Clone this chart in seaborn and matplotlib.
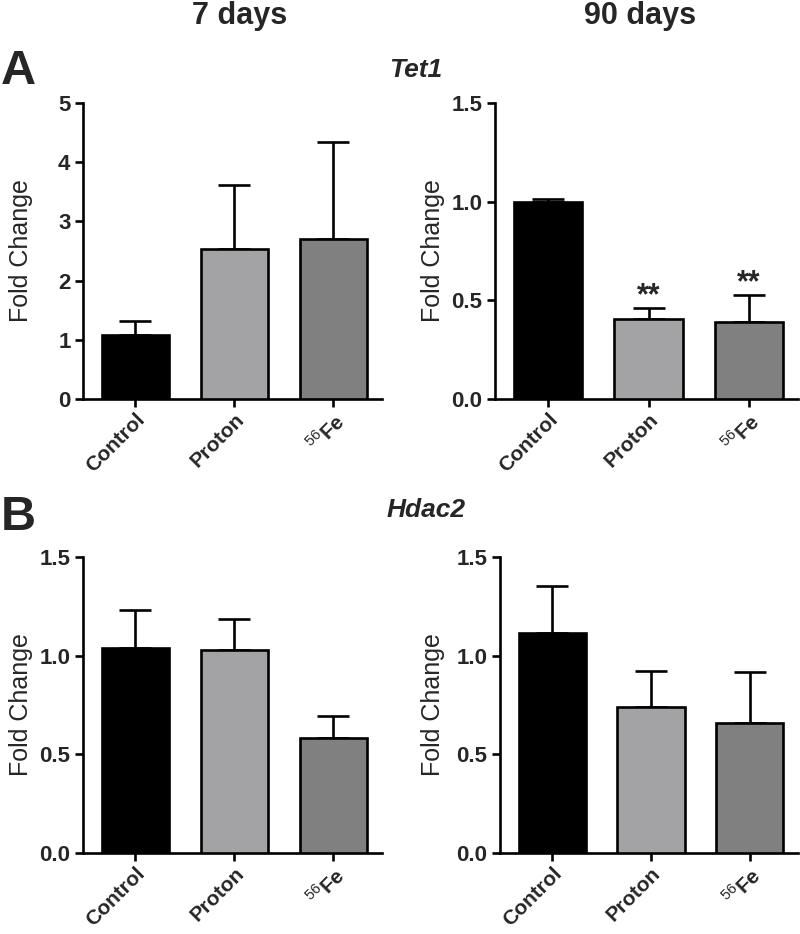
import matplotlib
matplotlib.use("Agg")
import matplotlib.pyplot as plt
import seaborn as sns
import numpy as np

sns.set_style("ticks")
plt.rcParams['font.family'] = ['Liberation Sans', 'DejaVu Sans']
plt.rcParams['mathtext.fontset'] = 'custom'
plt.rcParams['mathtext.rm'] = 'Liberation Sans'
plt.rcParams['mathtext.bf'] = 'Liberation Sans:bold'

categories = ["Control", "Proton", r"$^{56}$Fe"]
bar_colors = ["#000000", "#a2a2a6", "#808080"]

tet1_7d = [1.08, 2.53, 2.70]
tet1_7d_err = [0.23, 1.08, 1.64]
tet1_90d = [1.00, 0.405, 0.39]
tet1_90d_err = [0.015, 0.055, 0.135]
hdac2_7d = [1.04, 1.03, 0.585]
hdac2_7d_err = [0.19, 0.155, 0.11]
hdac2_90d = [1.117, 0.741, 0.657]
hdac2_90d_err = [0.236, 0.181, 0.261]

yticks_tet1_7d = [0, 1, 2, 3, 4, 5]
yticks_other = [0.0, 0.5, 1.0, 1.5]

fig = plt.figure(figsize=(8, 9.34), dpi=100)

W, H = 800, 934
def add_ax(x0, x1, ytop, ybot):
    return fig.add_axes([x0 / W, 1 - ybot / H, (x1 - x0) / W, (ybot - ytop) / H])

axes = [
    add_ax(83, 382, 103, 399),
    add_ax(495, 798, 103, 399),
    add_ax(83, 382, 557, 853),
    add_ax(500, 798, 557, 853),
]
panels = [
    (tet1_7d, tet1_7d_err, yticks_tet1_7d, ["0", "1", "2", "3", "4", "5"], None),
    (tet1_90d, tet1_90d_err, yticks_other, ["0.0", "0.5", "1.0", "1.5"], [None, "**", "**"]),
    (hdac2_7d, hdac2_7d_err, yticks_other, ["0.0", "0.5", "1.0", "1.5"], None),
    (hdac2_90d, hdac2_90d_err, yticks_other, ["0.0", "0.5", "1.0", "1.5"], None),
]

lw = 1.9
for ax, (vals, errs, yt, ytl, stars) in zip(axes, panels):
    sns.barplot(x=categories, y=vals, hue=categories, palette=bar_colors,
                order=categories, hue_order=categories, legend=False,
                width=0.68, edgecolor="black", linewidth=lw, errorbar=None,
                ax=ax, zorder=3)
    xs = np.arange(len(vals))
    ax.errorbar(xs, vals, yerr=[np.zeros(len(vals)), errs], fmt="none",
                ecolor="black", elinewidth=lw, capsize=11.5, capthick=lw, zorder=2)
    if stars:
        for x, v, e, s in zip(xs, vals, errs, stars):
            if s:
                ax.annotate(s, (x, v + e), xytext=(0, -2), textcoords="offset points",
                            ha="center", va="bottom", fontsize=22, fontweight="bold")
    ax.set_xlim(-0.53, 2.49)
    ax.set_ylim(yt[0], yt[-1])
    ax.set_yticks(yt)
    ax.set_yticklabels(ytl, fontsize=16, fontweight="bold")
    ax.set_xticks(xs)
    ax.set_xticklabels(categories, fontsize=15, fontweight="bold", rotation=45,
                       ha="right", rotation_mode="anchor")
    ax.set_ylabel("Fold Change", fontsize=18)
    ax.set_xlabel("")
    sns.despine(ax=ax)
    for sp in ["left", "bottom"]:
        ax.spines[sp].set_linewidth(lw)
        ax.spines[sp].set_color("black")
    ax.tick_params(axis="both", width=lw, length=6, color="black", pad=3)
    ax.tick_params(axis="x", pad=2)
    ax.set_facecolor("white")

axes[0].yaxis.set_label_coords(-0.167, 0.5)
axes[1].yaxis.set_label_coords(-0.165, 0.5)
axes[2].yaxis.set_label_coords(-0.167, 0.5)
axes[3].yaxis.set_label_coords(-0.185, 0.5)

fig.text(240 / W, 1 - 16 / H, "7 days", fontsize=22, fontweight="bold", ha="center", va="center")
fig.text(640 / W, 1 - 16 / H, "90 days", fontsize=22, fontweight="bold", ha="center", va="center")
fig.text(1 / W, 1 - 72 / H, "A", fontsize=35, fontweight="bold", ha="left", va="center")
fig.text(1 / W, 1 - 517 / H, "B", fontsize=35, fontweight="bold", ha="left", va="center")
fig.text(389 / W, 1 - 70 / H, "Tet1", fontsize=19, fontweight="bold", style="italic", ha="left", va="center")
fig.text(387 / W, 1 - 510 / H, "Hdac2", fontsize=19, fontweight="bold", style="italic", ha="left", va="center")

fig.savefig("out.png", dpi=100, facecolor="white")
